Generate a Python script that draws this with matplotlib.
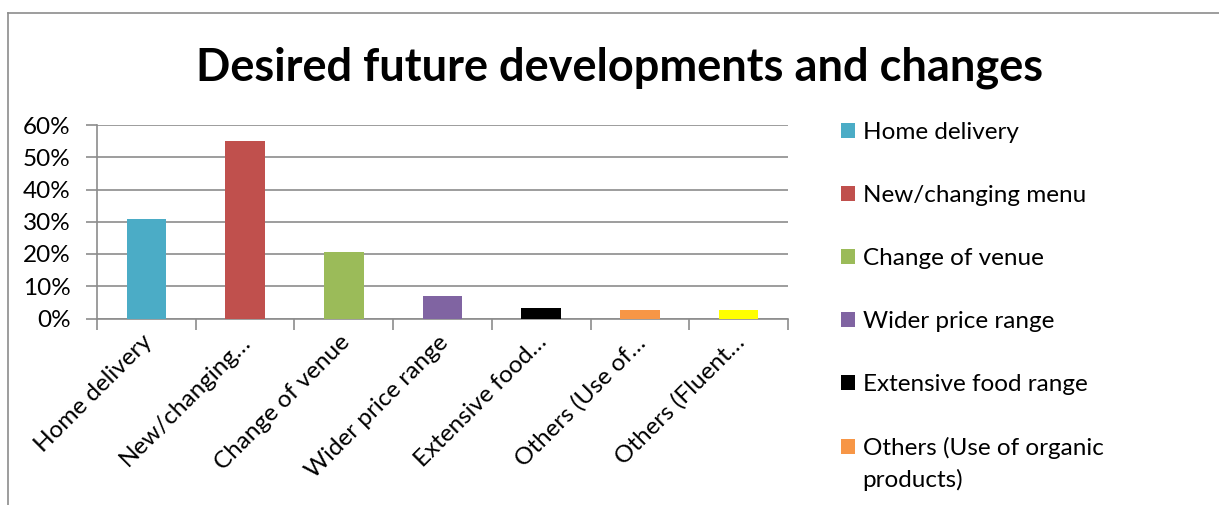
import matplotlib
matplotlib.use("Agg")
import matplotlib.pyplot as plt
from matplotlib.patches import Patch
from matplotlib.lines import Line2D

categories = ["Home delivery", "New/changing menu", "Change of venue", "Wider price range",
              "Extensive food range", "Others (Use of organic products)", "Others (Fluent staff)"]
tick_labels = ["Home delivery", "New/changing\u2026", "Change of venue", "Wider price range",
               "Extensive food\u2026", "Others (Use of\u2026", "Others (Fluent\u2026"]
legend_labels = ["Home delivery", "New/changing menu", "Change of venue", "Wider price range",
                 "Extensive food range", "Others (Use of organic"]
legend_wrap = "products)"
values = [0.31, 0.551, 0.206, 0.069, 0.032, 0.026, 0.026]
colors = ["#4BACC6", "#C0504D", "#9BBB59", "#8064A2", "#000000", "#F79646", "#FFFF00"]

plt.rcParams['font.family'] = ['Lato', 'DejaVu Sans']

W, H = 1219, 505
fig = plt.figure(figsize=(W / 100, H / 100), dpi=100)

# outer chart border (top and left visible)
border = "#8C8C8C"
fig.add_artist(Line2D([8 / W, 8 / W], [0, 1 - 13 / H], transform=fig.transFigure, color=border, lw=1.2))
fig.add_artist(Line2D([8 / W, 1], [1 - 13 / H, 1 - 13 / H], transform=fig.transFigure, color=border, lw=1.2))

ax = fig.add_axes([97 / W, 1 - 318.5 / H, (788 - 97) / W, (318.5 - 125) / H])
x = range(len(categories))
ax.bar(x, values, width=0.4, color=colors, zorder=3)
ax.set_xlim(-0.5, len(categories) - 0.5)
ax.set_ylim(0, 0.6)
ax.set_yticks([0, 0.1, 0.2, 0.3, 0.4, 0.5, 0.6])
ax.set_yticklabels(["0%", "10%", "20%", "30%", "40%", "50%", "60%"], fontsize=17.5)
ax.yaxis.grid(True, color="#8C8C8C", lw=1.2, zorder=0)
for s in ["top", "right"]:
    ax.spines[s].set_visible(False)
for s in ["left", "bottom"]:
    ax.spines[s].set_color("#8C8C8C")
    ax.spines[s].set_linewidth(1.2)
ax.tick_params(axis="y", length=8, color="#8C8C8C", width=1.2, pad=11)
ax.set_xticks([i - 0.5 for i in range(len(categories) + 1)], minor=False)
ax.set_xticklabels([])
ax.tick_params(axis="x", length=8, color="#8C8C8C", width=1.2)
for i, lab in enumerate(tick_labels):
    ax.text(i - 0.05, -0.04, lab, rotation=45, rotation_mode="anchor", ha="right", va="top",
            fontsize=17.5, transform=ax.transData)

fig.text(620 / W, 1 - 68 / H, "Desired future developments and changes", ha="center", va="center",
         fontsize=32.5, fontweight="bold")

handles = [Patch(facecolor=c) for c in colors[:6]]
leg = fig.legend(handles, legend_labels, loc="upper left", bbox_to_anchor=(819 / W, 1 - 100 / H),
                 frameon=False, fontsize=17.5, handlelength=0.6, handleheight=0.6, handletextpad=0.3,
                 labelspacing=1.73)

fig.canvas.draw()
last = leg.get_texts()[-1]
bb = last.get_window_extent(fig.canvas.get_renderer())
fig.text(bb.x0 / W, (bb.y0 - 32) / H, legend_wrap, fontsize=17.5, ha="left", va="bottom")

fig.savefig("out.png", dpi=100)
